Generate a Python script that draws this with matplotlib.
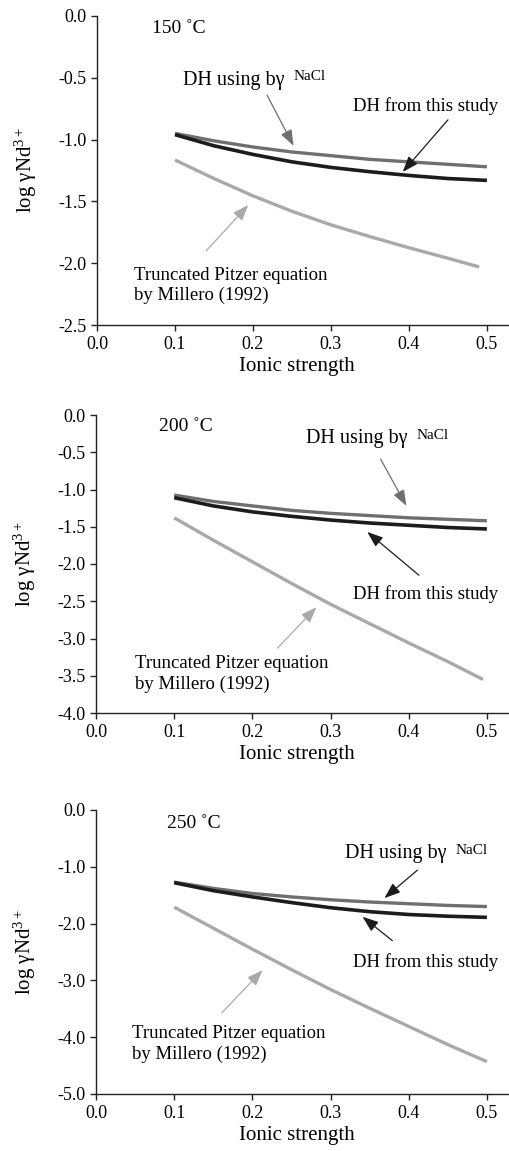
import numpy as np
import matplotlib
matplotlib.use("Agg")
import matplotlib.pyplot as plt

plt.rcParams["font.family"] = ["Liberation Serif", "DejaVu Serif"]
plt.rcParams["mathtext.fontset"] = "custom"
plt.rcParams["mathtext.rm"] = "Liberation Serif"
plt.rcParams["mathtext.it"] = "Liberation Serif:italic"
plt.rcParams["mathtext.bf"] = "Liberation Serif:bold"
plt.rcParams["axes.unicode_minus"] = False

# ionic strength grid
ionic = [0.10, 0.15, 0.20, 0.25, 0.30, 0.35, 0.40, 0.45, 0.50]
ionic_pitzer_150 = [0.10, 0.15, 0.20, 0.25, 0.30, 0.35, 0.40, 0.45, 0.49]
ionic_pitzer_200 = [0.10, 0.15, 0.20, 0.25, 0.30, 0.35, 0.40, 0.45, 0.495]
ionic_pitzer_250 = [0.10, 0.15, 0.20, 0.25, 0.30, 0.35, 0.40, 0.45, 0.50]

temps = ["150 ˚C", "200 ˚C", "250 ˚C"]

# log gamma Nd3+ : DH using b-gamma NaCl
dh_nacl_150 = [-0.95, -1.01, -1.06, -1.10, -1.13, -1.16, -1.18, -1.20, -1.22]
dh_nacl_200 = [-1.075, -1.16, -1.22, -1.28, -1.32, -1.35, -1.38, -1.40, -1.42]
dh_nacl_250 = [-1.27, -1.38, -1.47, -1.53, -1.58, -1.62, -1.65, -1.68, -1.70]

# DH from this study
dh_study_150 = [-0.96, -1.05, -1.12, -1.18, -1.225, -1.26, -1.29, -1.315, -1.33]
dh_study_200 = [-1.11, -1.22, -1.30, -1.36, -1.41, -1.45, -1.48, -1.51, -1.53]
dh_study_250 = [-1.28, -1.42, -1.53, -1.63, -1.72, -1.79, -1.84, -1.87, -1.89]

# truncated Pitzer (Millero 1992)
pitzer_150 = [-1.165, -1.315, -1.455, -1.58, -1.69, -1.785, -1.875, -1.96, -2.03]
pitzer_200 = [-1.38, -1.68, -1.97, -2.26, -2.54, -2.80, -3.06, -3.31, -3.55]
pitzer_250 = [-1.71, -2.08, -2.45, -2.81, -3.16, -3.49, -3.81, -4.13, -4.43]

ylims = [(-2.5, 0.0), (-4.0, 0.0), (-5.0, 0.0)]
ysteps = [0.5, 0.5, 1.0]

C_NACL = "#6f6f6f"
C_STUDY = "#1c1c1c"
C_PITZER = "#a9a9a9"

W, H = 509, 1151
fig = plt.figure(figsize=(W / 100, H / 100), dpi=100)

# axes boxes in pixels: left, top, right, bottom
boxes = [(97, 16, 508, 325), (96, 415, 508, 713), (96, 810, 508, 1094)]

# annotation placements (data coords)
temp_pos = [(0.07, -0.10), (0.081, -0.15), (0.091, -0.23)]
nacl_text = [(0.11, -0.52), (0.268, -0.32), (0.319, -0.77)]
nacl_arrow = [((0.218, -0.64), (0.252, -1.05)),
              ((0.364, -0.59), (0.397, -1.22)),
              ((0.411, -1.06), (0.369, -1.55))]
nacl_arrow_col = [C_NACL, C_NACL, C_STUDY]
study_text = [(0.328, -0.73), (0.329, -2.40), (0.329, -2.67)]
study_arrow = [((0.45, -0.84), (0.392, -1.262)),
               ((0.413, -2.15), (0.347, -1.57)),
               ((0.379, -2.30), (0.341, -1.88))]
pitzer_text = [(0.048, -2.18), (0.05, -3.48), (0.046, -4.12)]
pitzer_arrow = [((0.140, -1.90), (0.194, -1.53)),
                ((0.232, -3.13), (0.282, -2.58)),
                ((0.161, -3.57), (0.213, -2.82))]

nacl_series = [dh_nacl_150, dh_nacl_200, dh_nacl_250]
study_series = [dh_study_150, dh_study_200, dh_study_250]
pitzer_x = [ionic_pitzer_150, ionic_pitzer_200, ionic_pitzer_250]
pitzer_series = [pitzer_150, pitzer_200, pitzer_250]

fs_tick = 13
fs_lab = 15
fs_ann = 13.5


def arrow(ax, tail, tip, color):
    ax.annotate("", xy=tip, xytext=tail,
                arrowprops=dict(arrowstyle="-|>,head_length=0.8,head_width=0.3",
                                color=color, lw=0.9, mutation_scale=12,
                                shrinkA=0, shrinkB=0))


for i in range(3):
    l, t, r, b = boxes[i]
    ax = fig.add_axes([l / W, 1 - b / H, (r - l) / W, (b - t) / H])
    ax.plot(pitzer_x[i], pitzer_series[i], color=C_PITZER, lw=2.4, solid_capstyle="butt")
    ax.plot(ionic, nacl_series[i], color=C_NACL, lw=2.4, solid_capstyle="butt")
    ax.plot(ionic, study_series[i], color=C_STUDY, lw=2.6, solid_capstyle="butt")

    ax.set_xlim(0, 0.527)
    ax.set_ylim(*ylims[i])
    ax.set_xticks(np.arange(0, 0.51, 0.1))
    ax.set_xticklabels([f"{v:.1f}" for v in np.arange(0, 0.51, 0.1)])
    yt = np.arange(ylims[i][0], 0.001, ysteps[i])
    ax.set_yticks(yt)
    ax.set_yticklabels([f"{v:.1f}" for v in yt])
    for s in ["top", "right"]:
        ax.spines[s].set_visible(False)
    for s in ["left", "bottom"]:
        ax.spines[s].set_linewidth(1.0)
        ax.spines[s].set_color("#222222")
    ax.tick_params(axis="y", length=4.5, width=1.0, pad=3, labelsize=fs_tick, color="#222222")
    ax.tick_params(axis="x", length=4, width=1.0, pad=4, labelsize=fs_tick, color="#222222")

    ax.set_xlabel("Ionic strength", fontsize=fs_lab)
    ax.xaxis.set_label_coords(0.487, -0.105 * 309 / (b - t))
    ax.set_ylabel("log γNd$^{\\rm 3+}$", fontsize=fs_lab)
    ax.yaxis.set_label_coords(-0.14, 0.5)

    ax.text(*temp_pos[i], temps[i], fontsize=14, ha="left", va="center")
    txt = ax.text(*nacl_text[i], "DH using bγ", fontsize=14.5, ha="left", va="center")
    ax.annotate("NaCl", xy=(1, 0), xycoords=txt, xytext=(6.5, 7),
                textcoords="offset points", fontsize=11, ha="left", va="baseline")
    arrow(ax, *nacl_arrow[i], nacl_arrow_col[i])
    ax.text(*study_text[i], "DH from this study", fontsize=fs_ann, ha="left", va="center")
    arrow(ax, *study_arrow[i], C_STUDY)
    ax.text(*pitzer_text[i], "Truncated Pitzer equation\nby Millero (1992)",
            fontsize=fs_ann, ha="left", va="center", linespacing=1.25)
    arrow(ax, *pitzer_arrow[i], C_PITZER)

fig.savefig("out.png", dpi=100)
